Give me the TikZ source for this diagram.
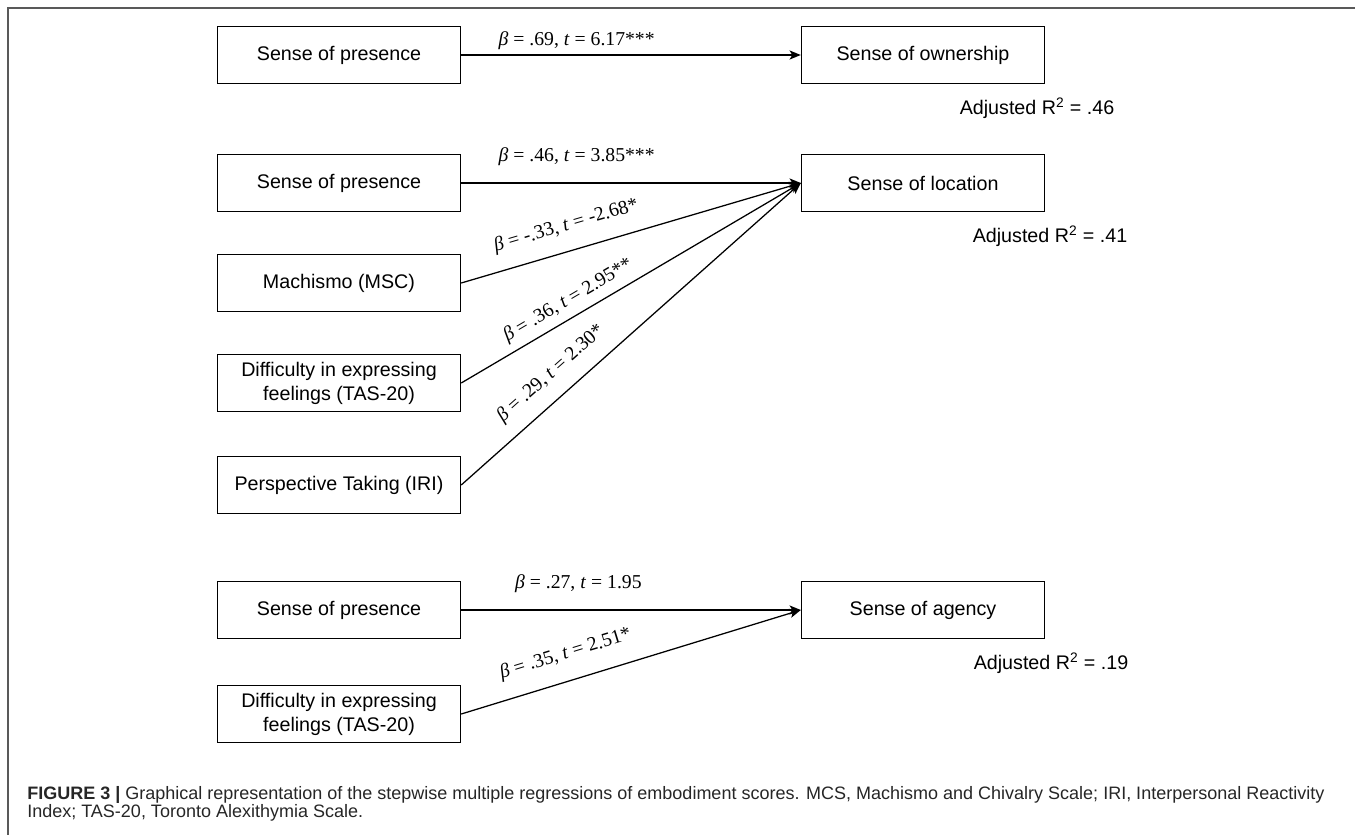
\documentclass[tikz,border=0pt]{standalone}
\usepackage{fontspec}
\setmainfont{Liberation Sans}
\newfontfamily\tnr{Liberation Serif}
\usetikzlibrary{arrows.meta}
\newcommand{\coef}[2]{{\tnr\textit{β} = #1, \textit{t} = #2}}

\begin{document}
\begin{tikzpicture}[x=0.025cm,y=-0.025cm,
  var/.style={draw,line width=1pt,minimum width=6.075cm,minimum height=1.425cm,inner sep=0pt,align=center,font=\fontsize{14}{17}\selectfont},
  coef/.style={font=\fontsize{14}{16}\selectfont,inner sep=2pt},
  rsq/.style={font=\fontsize{14}{16}\selectfont,inner sep=0pt},
  link/.style={-{Stealth[length=8pt,width=6.5pt,inset=2pt]},line width=0.9pt}]
\useasboundingbox (0,0) rectangle (1355,835);
\draw[black!65,line width=1pt] (8,835) -- (8,8) -- (1355,8);

% ownership
\node [var] (pres1) at (339,55) {Sense of presence};
\node [var] (own) at (923,55) {Sense of ownership};
\node [rsq] (r1) at (1037,108) {Adjusted R\textsuperscript{2} = .46};
\draw [link] (pres1) -- node [coef,pos=0.34,above=1pt] {\coef{.69}{6.17***}} (own);

% location
\node [var] (pres2) at (339,183) {Sense of presence};
\node [var] (msc) at (339,283) {Machismo (MSC)};
\node [var] (tas1) at (339,383) {Difficulty in expressing\\feelings (TAS-20)};
\node [var] (iri) at (339,485) {Perspective Taking (IRI)};
\node [var] (loc) at (923,183) {Sense of location};
\node [rsq] (r2) at (1050,236) {Adjusted R\textsuperscript{2} = .41};
\draw [link] (pres2.east) -- node [coef,pos=0.34,above=10pt] {\coef{.46}{3.85***}} (loc.west);
\draw [link] (msc.east) -- node [coef,pos=0.33,sloped,above=9pt] {\coef{-.33}{-2.68*}} (loc.west);
\draw [link] (tas1.east) -- node [coef,pos=0.34,sloped,above=3pt] {\coef{.36}{2.95**}} (loc.west);
\draw [link] (iri.east) -- node [coef,pos=0.31,sloped,above=8pt] {\coef{.29}{2.30*}} (loc.west);

% agency
\node [var] (pres3) at (339,610) {Sense of presence};
\node [var] (tas2) at (339,714) {Difficulty in expressing\\feelings (TAS-20)};
\node [var] (agency) at (923,610) {Sense of agency};
\node [rsq] (r3) at (1051,663) {Adjusted R\textsuperscript{2} = .19};
\draw [link] (pres3.east) -- node [coef,pos=0.345,above=10pt] {\coef{.27}{1.95}} (agency.west);
\draw [link] (tas2.east) -- node [coef,pos=0.33,sloped,above=10pt] {\coef{.35}{2.51*}} (agency.west);

% caption
\node [anchor=north west,align=left,inner sep=0pt,text=black!85,font=\fontsize{12.8}{13.2}\selectfont] (cap) at (27,786)
  {\textbf{FIGURE 3 |} Graphical representation of the stepwise multiple regressions of embodiment scores. MCS, Machismo and Chivalry Scale; IRI, Interpersonal Reactivity\\
   Index; TAS-20, Toronto Alexithymia Scale.};
\end{tikzpicture}
\end{document}
